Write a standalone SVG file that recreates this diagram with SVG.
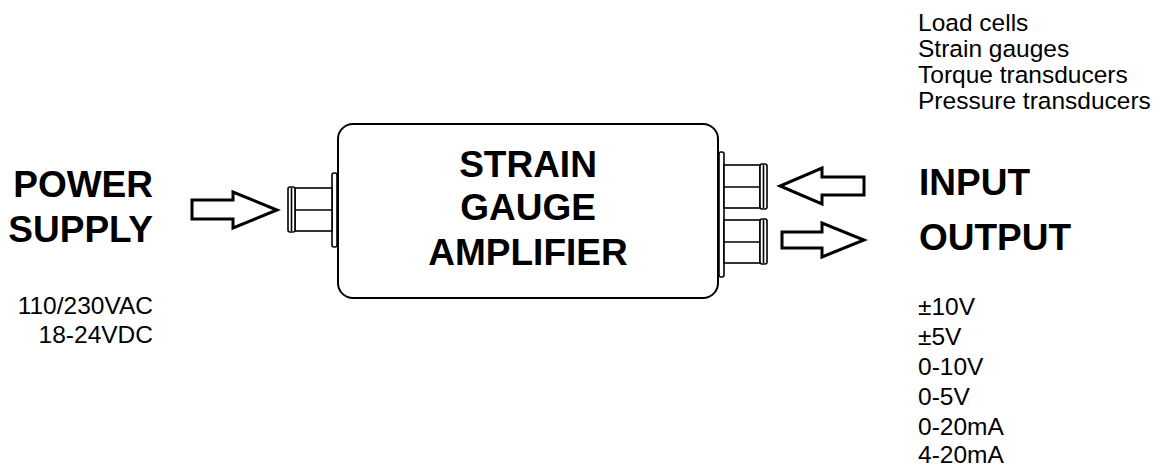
<svg xmlns="http://www.w3.org/2000/svg" width="1166" height="468" viewBox="0 0 1166 468">
<style>
.ln{fill:#fff;stroke:#000;stroke-width:1.6}
.box{fill:#fff;stroke:#000;stroke-width:2}
.arr{fill:#fff;stroke:#000;stroke-width:3;stroke-linejoin:miter}
.big{font-family:"Liberation Sans",Arial,sans-serif;font-weight:bold;font-size:37px;fill:#000}
.sm{font-family:"Liberation Sans",Arial,sans-serif;font-size:24.5px;fill:#000}
</style>
<rect width="1166" height="468" fill="#fff"/>
<g id="amplifier">
<rect class="box" x="338" y="124" width="380" height="174" rx="15"/>
<text class="big" text-anchor="middle" x="528" y="177">STRAIN</text>
<text class="big" text-anchor="middle" x="528" y="220">GAUGE</text>
<text class="big" text-anchor="middle" x="528" y="265">AMPLIFIER</text>
</g>
<g id="power-connector">
<rect class="ln" x="332" y="173" width="5" height="74" rx="2"/>
<rect class="ln" x="295" y="188" width="37" height="43"/>
<line class="ln" x1="295" y1="210" x2="332" y2="210"/>
<rect class="ln" x="288" y="187" width="7" height="45" rx="2"/>
<line class="ln" x1="291.5" y1="188" x2="291.5" y2="231"/>
</g>
<g id="io-connector">
<rect class="ln" x="719" y="152" width="5" height="125" rx="2"/>
<rect class="ln" x="724" y="165" width="36" height="43"/>
<line class="ln" x1="724" y1="187" x2="760" y2="187"/>
<rect class="ln" x="760" y="164" width="7" height="45" rx="2"/>
<line class="ln" x1="763.5" y1="165" x2="763.5" y2="208"/>
<rect class="ln" x="724" y="220" width="36" height="43"/>
<line class="ln" x1="724" y1="242" x2="760" y2="242"/>
<rect class="ln" x="760" y="219" width="7" height="45" rx="2"/>
<line class="ln" x1="763.5" y1="220" x2="763.5" y2="263"/>
</g>
<g id="connectors">
<polygon class="arr" points="192,200 233,200 233,192 277,210 233,228 233,219 192,219"/>
<polygon class="arr" points="864,177 822,177 822,168 780,186 822,204 822,195 864,195"/>
<polygon class="arr" points="782,232 822,232 822,223 864,240 822,257 822,248 782,248"/>
</g>
<g id="power-supply">
<text class="big" text-anchor="end" x="153" y="197">POWER</text>
<text class="big" text-anchor="end" x="153" y="242">SUPPLY</text>
<text class="sm" text-anchor="end" x="153" y="314">110/230VAC</text>
<text class="sm" text-anchor="end" x="153" y="343">18-24VDC</text>
</g>
<g id="input">
<text class="sm" x="918" y="31">Load cells</text>
<text class="sm" x="918" y="57">Strain gauges</text>
<text class="sm" x="918" y="83">Torque transducers</text>
<text class="sm" x="918" y="109">Pressure transducers</text>
<text class="big" x="919" y="195">INPUT</text>
</g>
<g id="output">
<text class="big" x="919" y="250">OUTPUT</text>
<text class="sm" x="918" y="315">±10V</text>
<text class="sm" x="918" y="345">±5V</text>
<text class="sm" x="918" y="375">0-10V</text>
<text class="sm" x="918" y="405">0-5V</text>
<text class="sm" x="918" y="435">0-20mA</text>
<text class="sm" x="918" y="463">4-20mA</text>
</g>
</svg>
